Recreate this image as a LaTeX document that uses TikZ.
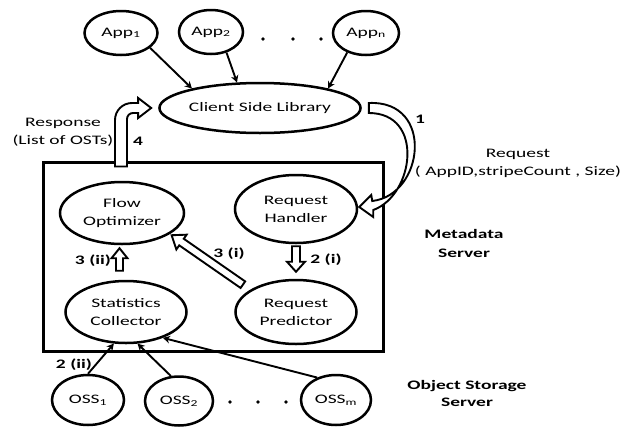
\documentclass[tikz,border=0pt]{standalone}
\usepackage{fontspec}
\setmainfont{Carlito}[FakeStretch=1.5]
\usetikzlibrary{shapes.geometric,arrows.meta,calc}
\newcommand\blockarrow[5]{% #1 tail, #2 tip, #3 half shaft, #4 half head, #5 head length
  \coordinate (tmpB) at ($(#2)!#5!(#1)$);
  \draw[blk] ($(#1)!#3!90:(#2)$) -- ($(tmpB)!#3!90:(#2)$) -- ($(tmpB)!#4!90:(#2)$) -- (#2)
    -- ($(tmpB)!#4!-90:(#2)$) -- ($(tmpB)!#3!-90:(#2)$) -- ($(#1)!#3!-90:(#2)$) -- cycle;}
\begin{document}
\begin{tikzpicture}[x=1pt,y=-1pt,
  font=\fontsize{13}{18}\selectfont,
  oval/.style={ellipse, draw, line width=2.5pt, inner sep=0pt, align=center},
  conn/.style={line width=1.9pt, -{Stealth[length=7pt,width=7.5pt]}},
  blk/.style={draw, line width=1.9pt, fill=white, line join=miter},
  lbl/.style={font=\fontsize{13}{18}\selectfont\bfseries, inner sep=0pt},
  txt/.style={inner sep=0pt, align=center}]
\useasboundingbox (0,0) rectangle (621,426);

% metadata server box
\node[draw, line width=3pt, minimum width=339.5pt, minimum height=189pt, inner sep=0pt] (box) at (213.25,256.5) {};

% applications
\node[oval, minimum width=73pt, minimum height=44pt] (app1) at (121,33) {App\textsubscript{1}};
\node[oval, minimum width=64pt, minimum height=44pt] (app2) at (211,32) {App\textsubscript{2}};
\node[oval, minimum width=66pt, minimum height=44pt] (appn) at (366,33) {App\textsubscript{n}};
\fill (263,39) circle[radius=1.8pt] (293,39) circle[radius=1.8pt] (321,39) circle[radius=1.8pt];

\node[oval, minimum width=180pt, minimum height=50pt] (client) at (260,108) {Client Side Library};

% metadata server components
\node[oval, minimum width=124pt, minimum height=62pt] (flow) at (122,213) {Flow\\Optimizer};
\node[oval, minimum width=122pt, minimum height=68pt] (handler) at (296,209) {Request\\Handler};
\node[oval, minimum width=121pt, minimum height=62pt] (stats) at (126,312) {Statistics\\Collector};
\node[oval, minimum width=121pt, minimum height=64pt] (predictor) at (296,312) {Request\\Predictor};

% object storage servers
\node[oval, minimum width=72pt, minimum height=50pt] (oss1) at (88,400) {OSS\textsubscript{1}};
\node[oval, minimum width=68pt, minimum height=49pt] (oss2) at (179,401) {OSS\textsubscript{2}};
\node[oval, minimum width=70pt, minimum height=50pt] (ossm) at (336,400) {OSS\textsubscript{m}};
\fill (230,402) circle[radius=1.8pt] (258,402) circle[radius=1.8pt] (286,402) circle[radius=1.8pt];

% thin connectors
\draw[conn] (app1.-27) -- (client.164);
\draw[conn] (app2.-53) -- (client.132);
\draw[conn] (appn.-134) -- (client.16);
\draw[conn] (oss1.north) -- (stats.-111);
\draw[conn] (oss2.108) -- (stats.-70);
\draw[conn] (ossm.130) -- (stats.-35);

% 1: request (curved block arrow)
\coordinate (s1) at ($(client.east)+(7,0)$);
\coordinate (t1) at ($(handler.east)+(1,-2)$);
\draw[blk] ($(s1)+(0,-5)$) .. controls ($(s1)+(66,-8)$) and ($(t1)+(65,-12)$) .. ($(t1)+(13,-6)$)
  -- ($(t1)+(12,-12)$) -- (t1) -- ($(t1)+(14,10)$) -- ($(t1)+(14,3)$)
  .. controls ($(t1)+(55,-12)$) and ($(s1)+(56,5)$) .. ($(s1)+(0,5)$) -- cycle;

% 4: response (bent block arrow)
\coordinate (b4) at ($(flow.north |- box.north)+(-1,6)$);
\coordinate (t4) at ($(client.west)+(-7,0)$);
\coordinate (c4) at (b4 |- t4);
\draw[blk] ($(b4)+(-6,0)$) -- ($(c4)+(-6,12)$) .. controls ($(c4)+(-6,2.6)$) and ($(c4)+(1.6,-5)$) .. ($(c4)+(11,-5)$)
  -- ($(t4)+(-13,-5)$) -- ($(t4)+(-13,-10)$) -- (t4) -- ($(t4)+(-13,10)$) -- ($(t4)+(-13,5)$)
  -- ($(c4)+(12,5)$) .. controls ($(c4)+(8.7,5)$) and ($(c4)+(6,7.7)$) .. ($(c4)+(6,11)$)
  -- ($(b4)+(6,0)$) -- cycle;

% internal block arrows
\coordinate (t2a) at ($(handler.south)+(0,2)$);
\coordinate (h2a) at ($(predictor.north)+(0,-7)$);
\blockarrow{t2a}{h2a}{4pt}{9pt}{10pt}
\coordinate (t3b) at ($(stats.north)+(-6.5,-9)$);
\coordinate (h3b) at ($(t3b |- flow.south)+(0,3)$);
\blockarrow{t3b}{h3b}{3.5pt}{8pt}{10pt}
\coordinate (t3a) at ($(predictor.150)+(-11,-3)$);
\coordinate (h3a) at ($(flow.-24)+(2,1)$);
\blockarrow{t3a}{h3a}{4pt}{9pt}{12pt}

% labels
\node[lbl] (l1) at (420,119) {1};
\node[lbl] (l4) at (138,141) {4};
\node[lbl] (l2i) at (326,260) {2 (i)};
\node[lbl] (l3i) at (229,254) {3 (i)};
\node[lbl] (l3ii) at (93,261) {3 (ii)};
\node[lbl] (l2ii) at (74,365) {2 (ii)};
\node[txt] (resp) at (63,132) {Response\\(List of OSTs)};
\node[txt] (req) at (518,163) {Request\\( AppID,stripeCount , Size)};
\node[txt, font=\fontsize{13}{19}\selectfont\bfseries] (mds) at (464,243) {Metadata\\Server};
\node[txt, font=\fontsize{13}{17}\selectfont\bfseries] (osslbl) at (467,393) {Object Storage\\Server};
\end{tikzpicture}
\end{document}
